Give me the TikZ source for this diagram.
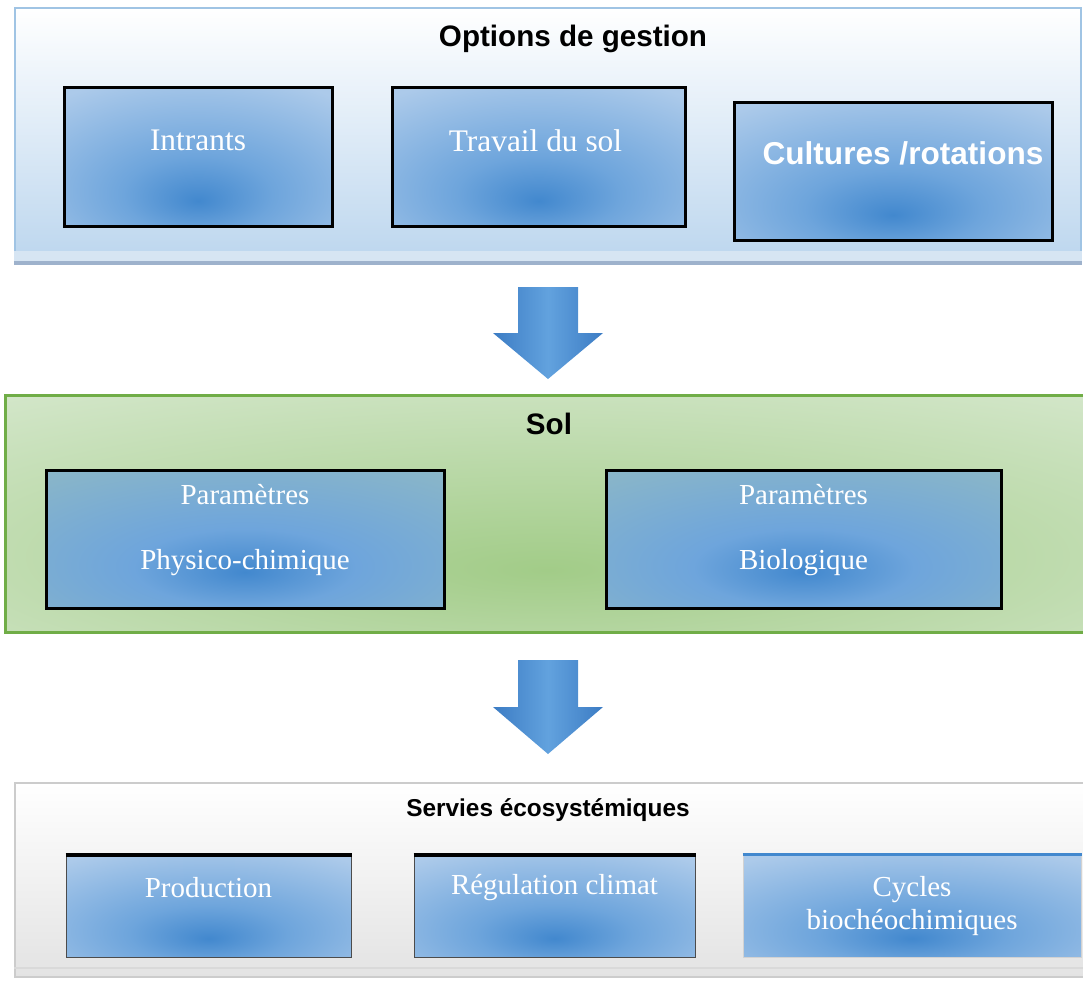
\documentclass[tikz,border=0pt]{standalone}
\usepackage{fontspec}
\setmainfont{Liberation Serif}
\setsansfont{Liberation Sans}
\usepackage{tikz}
\usetikzlibrary{calc,positioning}
\definecolor{panel-edge}{RGB}{160,196,228}
\definecolor{panel-blue}{RGB}{188,214,238}
\definecolor{panel-band}{RGB}{214,229,243}
\definecolor{panel-shade}{RGB}{158,178,204}
\definecolor{box-dark}{RGB}{66,136,206}
\definecolor{box-mid}{RGB}{110,165,220}
\definecolor{box-light}{RGB}{172,202,234}
\definecolor{box-teal}{RGB}{138,182,200}
\definecolor{sol-green}{RGB}{112,173,71}
\definecolor{sol-mid}{RGB}{162,204,136}
\definecolor{sol-light}{RGB}{216,233,208}
\definecolor{arrow-dark}{RGB}{60,124,196}
\definecolor{arrow-light}{RGB}{98,162,222}
\pgfdeclareradialshading{boxglow}{\pgfpoint{0bp}{-16bp}}{color(0bp)=(box-dark); color(14bp)=(box-mid); color(40bp)=(box-light); color(100bp)=(box-light)}
\pgfdeclareradialshading{tealglow}{\pgfpoint{0bp}{-12bp}}{color(0bp)=(box-dark); color(14bp)=(box-mid); color(40bp)=(box-teal); color(100bp)=(box-teal)}
\pgfdeclareradialshading{solglow}{\pgfpoint{0bp}{-12bp}}{color(0bp)=(sol-mid); color(45bp)=(sol-light); color(100bp)=(sol-light)}

\begin{document}
\begin{tikzpicture}[x=0.5pt, y=-0.5pt,
  optpanel/.style={draw=panel-edge, line width=1.2pt, top color=white, bottom color=panel-blue, inner sep=0pt},
  solpanel/.style={draw=sol-green, line width=1.5pt, shade, shading=solglow, inner sep=0pt},
  servpanel/.style={draw=gray!40, line width=1pt, top color=white, bottom color=gray!22, inner sep=0pt},
  bluebox/.style={draw=black, line width=1.5pt, shade, shading=boxglow, inner sep=0pt},
  tealbox/.style={bluebox, shading=tealglow},
  servbox/.style={draw=black!70, line width=0.5pt, shade, shading=boxglow, inner sep=0pt},
  boxtext/.style={text=white, font=\fontsize{14.5}{17.5}\selectfont, align=center, inner sep=0pt},
  paneltitle/.style={font=\sffamily\bfseries\fontsize{14.8}{17}\selectfont, inner sep=0pt},
  blockarrow/.style={left color=arrow-dark, right color=arrow-dark, middle color=arrow-light}]
  \clip (0,0) rectangle (1083,981);

  % options de gestion
  \node[optpanel, minimum width=533pt, minimum height=127pt] (opt) at (548,135) {};
  \fill[panel-band] ([yshift=6pt]opt.south west) rectangle (opt.south east);
  \draw[panel-shade, line width=2pt] (opt.south west) -- (opt.south east);
  \node[paneltitle] (opt-title) at (573,39) {Options de gestion};

  \node[bluebox, minimum width=134pt, minimum height=69.5pt] (intrants) at (198,156.5) {};
  \node[boxtext, font=\fontsize{15.7}{19}\selectfont, yshift=-27.5pt] (intrants-t) at (intrants.north) {Intrants};
  \node[bluebox, minimum width=146.5pt, minimum height=69.5pt] (travail) at (538.5,156.5) {};
  \node[boxtext, font=\fontsize{15.7}{19}\selectfont, yshift=-27.5pt, xshift=-1.5pt] (travail-t) at (travail.north) {Travail du sol};
  \node[bluebox, minimum width=159pt, minimum height=69pt] (cultures) at (893,171) {};
  \node[boxtext, font=\sffamily\bfseries\fontsize{15.8}{19}\selectfont, yshift=-26.5pt, xshift=5pt] (cultures-t) at (cultures.north) {Cultures /rotations};

  % arrow to sol
  \coordinate (arr1-top) at (548,287);
  \coordinate (arr1-tip) at (548,379);
  \shade[blockarrow] ($(arr1-top)+(-30,0)$) -- ($(arr1-top)+(30,0)$) -- ($(arr1-tip)+(30,-46)$)
    -- ($(arr1-tip)+(55,-46)$) -- (arr1-tip) -- ($(arr1-tip)+(-55,-46)$) -- ($(arr1-tip)+(-30,-46)$) -- cycle;

  % sol
  \node[solpanel, minimum width=542.5pt, minimum height=118.5pt] (sol) at (547.5,513.5) {};
  \node[paneltitle] (sol-title) at (549,424) {Sol};
  \node[tealbox, minimum width=199pt, minimum height=69pt] (physico) at (245,539) {};
  \node[boxtext, yshift=4.25pt] (physico-t) at (physico) {Paramètres\\[15pt]Physico-chimique};
  \node[tealbox, minimum width=197.5pt, minimum height=69pt] (bio) at (803.5,539) {};
  \node[boxtext, yshift=4.25pt] (bio-t) at (bio) {Paramètres\\[15pt]Biologique};

  % arrow to services
  \coordinate (arr2-top) at (548,660);
  \coordinate (arr2-tip) at (548,754);
  \shade[blockarrow] ($(arr2-top)+(-30,0)$) -- ($(arr2-top)+(30,0)$) -- ($(arr2-tip)+(30,-47)$)
    -- ($(arr2-tip)+(55,-47)$) -- (arr2-tip) -- ($(arr2-tip)+(-55,-47)$) -- ($(arr2-tip)+(-30,-47)$) -- cycle;

  % servies ecosystemiques
  \node[servpanel, minimum width=537.5pt, minimum height=97pt] (serv) at (552.5,880) {};
  \draw[gray!30, line width=1pt] ([yshift=5pt]serv.south west) -- ([yshift=5pt]serv.south east);
  \node[paneltitle, font=\sffamily\bfseries\fontsize{12.2}{15}\selectfont] (serv-title) at (548,810) {Servies écosystémiques};

  \node[servbox, minimum width=142.5pt, minimum height=51pt] (prod) at (208.5,906) {};
  \draw[line width=2pt] (prod.north west) -- (prod.north east);
  \node[boxtext, yshift=-16.5pt] (prod-t) at (prod.north) {Production};
  \node[servbox, minimum width=140.5pt, minimum height=51pt] (climat) at (554.5,906) {};
  \draw[line width=2pt] (climat.north west) -- (climat.north east);
  \node[boxtext, yshift=-16.5pt] (climat-t) at (climat.north) {Régulation climat};
  \node[servbox, draw=gray!35, minimum width=169pt, minimum height=51pt] (cycles) at (912,906) {};
  \draw[box-dark, line width=1.5pt] (cycles.north west) -- (cycles.north east);
  \node[boxtext, yshift=-26pt] (cycles-t) at (cycles.north) {Cycles\\[-1pt]biochéochimiques};
\end{tikzpicture}
\end{document}
